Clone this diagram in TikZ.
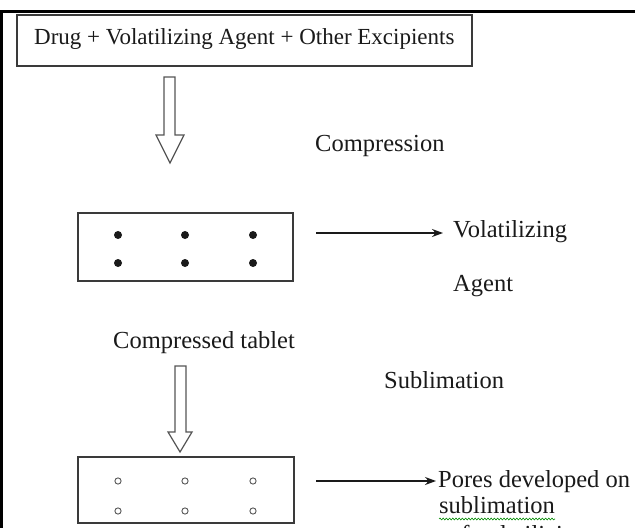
\documentclass[tikz,border=0pt]{standalone}
\usepackage{fontspec}
\setmainfont{Liberation Serif}
\usetikzlibrary{arrows.meta,decorations.pathmorphing}
\definecolor{ink}{HTML}{1A1A1A}
\definecolor{edge}{HTML}{3A3A3A}
\definecolor{hollow}{HTML}{555555}
\tikzset{
  boxstyle/.style={draw=edge, line width=1.3bp, inner sep=0pt},
  lbl/.style={anchor=base west, inner sep=0pt, text=ink, font=\fontsize{24.5bp}{26bp}\selectfont},
  toplbl/.style={anchor=base west, inner sep=0pt, text=ink, font=\fontsize{23bp}{25bp}\selectfont},
  thinarrow/.style={draw=ink, line width=1.1bp, -{Stealth[length=11bp,width=8bp]}},
  hollowarrow/.style={draw=hollow, line width=1.2bp, line join=miter},
  bigdot/.style={fill=ink},
  pore/.style={draw=hollow, line width=0.9bp},
  frame/.style={draw=black, line width=3bp},
  squiggle/.style={draw=green!55!black, line width=0.6bp, decorate, decoration={snake, amplitude=0.9bp, segment length=3.2bp}}
}
\begin{document}
\begin{tikzpicture}[x=1bp,y=-1bp]
\useasboundingbox (0,0) rectangle (635,528);
\clip (0,0) rectangle (635,528);
\fill[white] (0,0) rectangle (635,528);
% outer frame (top and left)
\draw[frame] (0,12) -- (635,12);
\draw[frame] (1.3,12) -- (1.3,528);

% top box
\node[boxstyle, minimum width=455bp, minimum height=51bp] (topbox) at (244.5,40.5) {};
\node[toplbl] (toptext) at (34,45) {Drug + Volatilizing Agent + Other Excipients};

% hollow arrow 1
\draw[hollowarrow] (164,77) -- (175,77) -- (175,135) -- (184,135) -- (170,163) -- (156,135) -- (164,135) -- cycle;
\node[lbl] (compression) at (315,152) {Compression};

% middle box with volatilizing agent
\node[boxstyle, minimum width=215bp, minimum height=68bp] (midbox) at (185.5,247) {};
\foreach \x in {118,185,253}{
  \foreach \y in {235,263}{
    \fill[bigdot] (\x,\y) circle (4bp);
  }
}
\node[lbl] (vol) at (453,238) {Volatilizing};
\node[lbl] (agent) at (453,291) {Agent};
\coordinate (arrAstart) at (316,233);
\coordinate (arrAend) at (443,233);
\draw[thinarrow] (arrAstart) -- (arrAend);
\node[lbl] (comptab) at (113,348) {Compressed tablet};

% hollow arrow 2
\draw[hollowarrow] (175,366) -- (186,366) -- (186,432) -- (192,432) -- (180,452) -- (168,432) -- (175,432) -- cycle;
\node[lbl] (subl) at (384,388) {Sublimation};

% bottom box with pores
\node[boxstyle, minimum width=216bp, minimum height=66bp] (botbox) at (186,490) {};
\foreach \x in {118,185,253}{
  \foreach \y in {481,511}{
    \draw[pore] (\x,\y) circle (3.1bp);
  }
}
\coordinate (arrBstart) at (316,481);
\coordinate (arrBend) at (436,481);
\draw[thinarrow] (arrBstart) -- (arrBend);
\node[lbl] (pores) at (438,487) {Pores developed on};
\node[lbl] (sublim) at (439,513) {sublimation};
\draw[squiggle] ([yshift=-6bp]sublim.base west) -- ([yshift=-6bp]sublim.base east);
\node[lbl] (ofvol) at (449,542) {of volatilizing};
\end{tikzpicture}
\end{document}
